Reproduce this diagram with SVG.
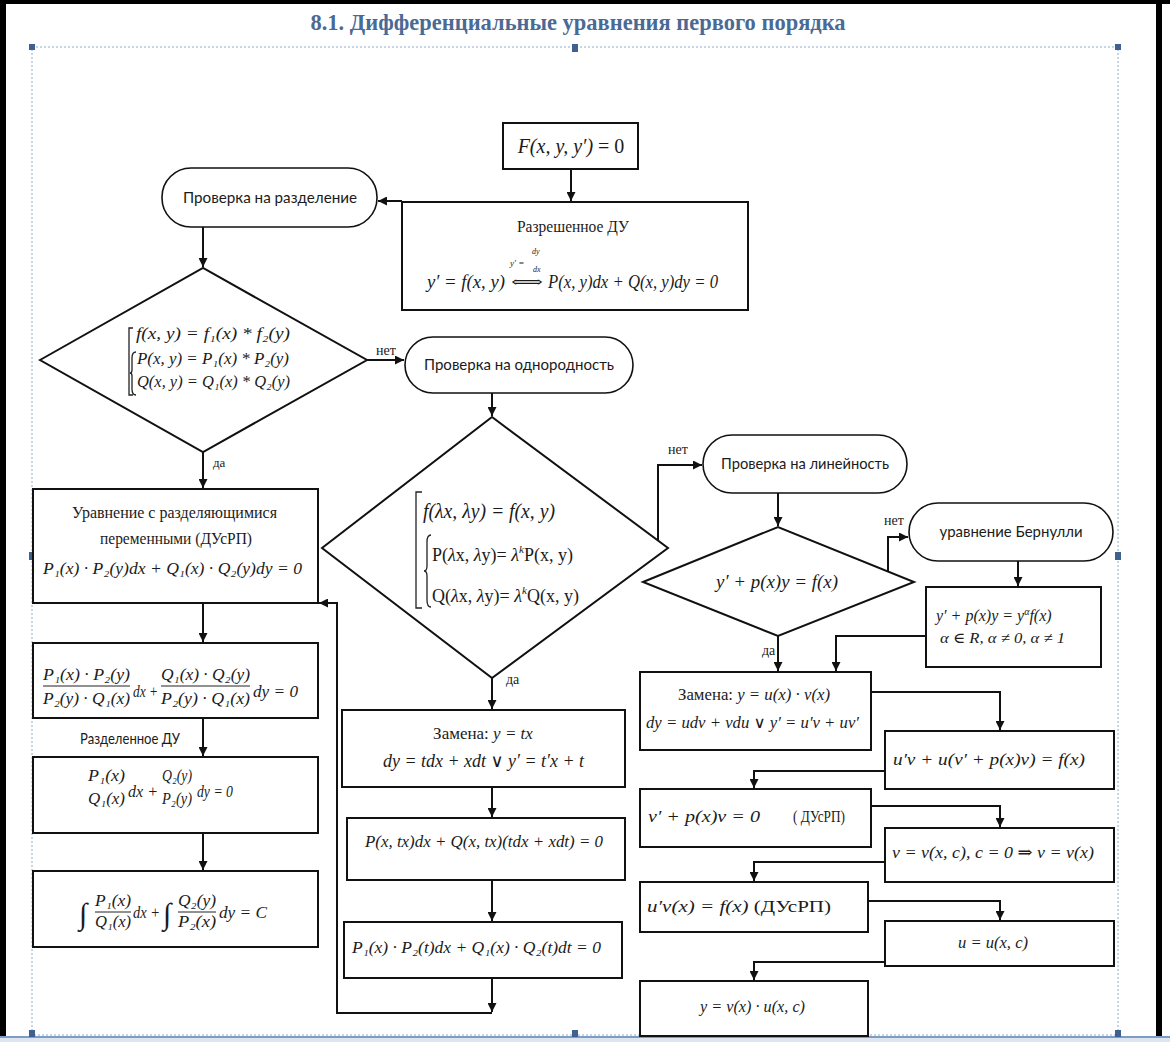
<svg xmlns="http://www.w3.org/2000/svg" width="1170" height="1042" viewBox="0 0 1170 1042">
<style>
.bx{fill:#fff;stroke:#111;stroke-width:2}
.tm{fill:#fff;stroke:#111;stroke-width:1.6}
.cn{fill:none;stroke:#111;stroke-width:2;marker-end:url(#ah)}
.m{font-family:"Liberation Serif","DejaVu Serif",serif;font-style:italic;fill:#1b1b1b}
.r{font-family:"Liberation Serif","DejaVu Serif",serif;fill:#1b1b1b}
.s{font-family:Lato,"Open Sans","Liberation Sans",sans-serif;fill:#1b1b1b}
.br{fill:none;stroke:#222;stroke-width:1.3}
.fl{stroke:#222;stroke-width:1}
.hd{fill:#3f6190}
</style>
<defs>
<marker id="ah" markerUnits="userSpaceOnUse" markerWidth="10" markerHeight="9" refX="9" refY="4.5" orient="auto"><path d="M0,0 L9,4.5 L0,9 z" fill="#111"/></marker>
</defs>
<rect x="0" y="0" width="1170" height="1042" fill="#fff"/>
<g id="frame">
<rect x="0" y="0" width="1170" height="4" fill="#000"/>
<rect x="0" y="0" width="6" height="1038" fill="#000"/>
<rect x="1156" y="0" width="6" height="1038" fill="#000"/>
<rect x="0" y="1038" width="1170" height="4" fill="#dce5f0"/>
<line x1="0" y1="1037" x2="1170" y2="1037" stroke="#7f9cc2" stroke-width="2"/>
<rect x="32" y="47" width="1086" height="988" fill="none" stroke="#8eaad0" stroke-width="1" stroke-dasharray="2,2"/>
<rect class="hd" x="29" y="44" width="6" height="6"/>
<rect class="hd" x="572" y="44" width="6" height="8"/>
<rect class="hd" x="1115" y="44" width="6" height="6"/>
<rect class="hd" x="29" y="552" width="6" height="8"/>
<rect class="hd" x="1115" y="552" width="6" height="8"/>
<rect class="hd" x="29" y="1030" width="6" height="7"/>
<rect class="hd" x="572" y="1030" width="6" height="7"/>
<rect class="hd" x="1115" y="1030" width="6" height="7"/>
<text x="578" y="30" text-anchor="middle" font-family="Liberation Serif, serif" font-weight="bold" font-size="23" fill="#4a6a95" textLength="535" lengthAdjust="spacingAndGlyphs">8.1. Дифференциальные уравнения первого порядка</text>
</g>
<g id="connectors">
<path class="cn" d="M571,169 V201"/>
<path class="cn" d="M402,201 H378"/>
<path class="cn" d="M203,227 V267"/>
<path class="cn" d="M367,360 H404"/>
<path class="cn" d="M203,452 V488"/>
<path class="cn" d="M203,603 V642"/>
<path class="cn" d="M203,718 V756"/>
<path class="cn" d="M203,833 V870"/>
<path class="cn" d="M492,393 V416"/>
<path class="cn" d="M658,541 V465 H702"/>
<path class="cn" d="M492,678 V709"/>
<path class="cn" d="M492,787 V817"/>
<path class="cn" d="M492,880 V921"/>
<path class="cn" d="M492,978 V1012"/>
<path class="cn" d="M492,1013 H337 V603 H319"/>
<path class="cn" d="M778,493 V526"/>
<path class="cn" d="M888,571 V537 H908"/>
<path class="cn" d="M1018,561 V586"/>
<path class="cn" d="M778,636 V671"/>
<path class="cn" d="M926,636 H836 V671"/>
<path class="cn" d="M871,692 H1000 V730"/>
<path class="cn" d="M885,771 H754 V788"/>
<path class="cn" d="M871,806 H1000 V827"/>
<path class="cn" d="M885,862 H754 V881"/>
<path class="cn" d="M868,901 H1000 V920"/>
<path class="cn" d="M885,962 H754 V980"/>
<text class="r" x="376" y="355" font-size="14">нет</text>
<text class="r" x="213" y="467" font-size="13">да</text>
<text class="r" x="668" y="454" font-size="14">нет</text>
<text class="r" x="506" y="684" font-size="14">да</text>
<text class="r" x="884" y="525" font-size="14">нет</text>
<text class="r" x="762" y="655" font-size="14">да</text>
<text class="s" x="80" y="744" font-size="15" textLength="100" lengthAdjust="spacingAndGlyphs">Разделенное ДУ</text>
</g>
<g id="n_F">
<rect class="bx" x="503" y="123" width="135" height="46"/>
<text class="m" x="571" y="153" font-size="20" text-anchor="middle">F(x, y, y′) <tspan font-style="normal">= 0</tspan></text>
</g>
<g id="n_resolved">
<rect class="bx" x="402" y="202" width="346" height="108"/>
<text class="r" x="573" y="232" font-size="16" text-anchor="middle" textLength="112" lengthAdjust="spacingAndGlyphs">Разрешенное ДУ</text>
<text class="m" x="427" y="288" font-size="18" textLength="78" lengthAdjust="spacingAndGlyphs">y′ = f(x, y)</text>
<text class="r" x="511" y="287" font-size="15" textLength="32" lengthAdjust="spacingAndGlyphs">⟺</text>
<text class="m" x="510" y="266" font-size="9">y′ =</text>
<text class="m" x="532" y="254" font-size="8">dy</text>
<text class="m" x="533" y="272" font-size="8">dx</text>
<text class="m" x="548" y="288" font-size="18" textLength="170" lengthAdjust="spacingAndGlyphs">P(x, y)dx + Q(x, y)dy = 0</text>
</g>
<g id="n_sep_check">
<rect class="tm" x="162" y="168" width="215" height="59" rx="29"/>
<text class="s" x="270" y="203" font-size="15" text-anchor="middle" textLength="174" lengthAdjust="spacingAndGlyphs">Проверка на разделение</text>
</g>
<g id="n_sep_diamond">
<polygon class="bx" points="40,360 203,268 367,360 203,452"/>
<path class="br" d="M133,328 H129 V395 H133"/>
<path class="br" d="M136,352 Q132,352 132,358 V370 Q132,373 130,373 Q132,373 132,376 V389 Q132,395 136,395"/>
<text class="m" x="136" y="339" font-size="17" textLength="154" lengthAdjust="spacingAndGlyphs">f(x, y) = f₁(x) * f₂(y)</text>
<text class="m" x="137" y="364" font-size="17" textLength="152" lengthAdjust="spacingAndGlyphs">P(x, y) = P₁(x) * P₂(y)</text>
<text class="m" x="137" y="387" font-size="17" textLength="153" lengthAdjust="spacingAndGlyphs">Q(x, y) = Q₁(x) * Q₂(y)</text>
</g>
<g id="n_sep_eq">
<rect class="bx" x="33" y="489" width="285" height="114"/>
<text class="r" x="72" y="518" font-size="17" textLength="205" lengthAdjust="spacingAndGlyphs">Уравнение с разделяющимися</text>
<text class="r" x="100" y="544" font-size="17" textLength="152" lengthAdjust="spacingAndGlyphs">переменными (ДУсРП)</text>
<text class="m" x="43" y="574" font-size="17" textLength="259" lengthAdjust="spacingAndGlyphs">P₁(x) · P₂(y)dx + Q₁(x) · Q₂(y)dy = 0</text>
</g>
<g id="n_divided">
<rect class="bx" x="33" y="643" width="285" height="75"/>
<text class="m" x="43" y="680" font-size="16" textLength="87" lengthAdjust="spacingAndGlyphs">P₁(x) · P₂(y)</text>
<line class="fl" x1="43" y1="686" x2="130" y2="686"/>
<text class="m" x="43" y="704" font-size="16" textLength="87" lengthAdjust="spacingAndGlyphs">P₂(y) · Q₁(x)</text>
<text class="m" x="133" y="697" font-size="16" textLength="25" lengthAdjust="spacingAndGlyphs">dx +</text>
<text class="m" x="161" y="680" font-size="16" textLength="89" lengthAdjust="spacingAndGlyphs">Q₁(x) · Q₂(y)</text>
<line class="fl" x1="161" y1="686" x2="250" y2="686"/>
<text class="m" x="161" y="704" font-size="16" textLength="89" lengthAdjust="spacingAndGlyphs">P₂(y) · Q₁(x)</text>
<text class="m" x="253" y="697" font-size="16" textLength="45" lengthAdjust="spacingAndGlyphs">dy = 0</text>
</g>
<g id="n_separated">
<rect class="bx" x="33" y="757" width="285" height="76"/>
<text class="m" x="88" y="781" font-size="16" textLength="37" lengthAdjust="spacingAndGlyphs">P₁(x)</text>
<text class="m" x="88" y="804" font-size="16" textLength="37" lengthAdjust="spacingAndGlyphs">Q₁(x)</text>
<text class="m" x="128" y="797" font-size="16" textLength="30" lengthAdjust="spacingAndGlyphs">dx +</text>
<text class="m" x="162" y="781" font-size="16" textLength="30" lengthAdjust="spacingAndGlyphs">Q₂(y)</text>
<text class="m" x="162" y="804" font-size="16" textLength="30" lengthAdjust="spacingAndGlyphs">P₂(y)</text>
<text class="m" x="197" y="797" font-size="16" textLength="36" lengthAdjust="spacingAndGlyphs">dy = 0</text>
</g>
<g id="n_integral">
<rect class="bx" x="33" y="871" width="285" height="76"/>
<text class="m" x="79" y="924" font-size="30">∫</text>
<text class="m" x="95" y="906" font-size="16" textLength="36" lengthAdjust="spacingAndGlyphs">P₁(x)</text>
<line class="fl" x1="95" y1="912" x2="131" y2="912"/>
<text class="m" x="95" y="927" font-size="16" textLength="36" lengthAdjust="spacingAndGlyphs">Q₁(x)</text>
<text class="m" x="133" y="918" font-size="16" textLength="27" lengthAdjust="spacingAndGlyphs">dx +</text>
<text class="m" x="163" y="924" font-size="30">∫</text>
<text class="m" x="178" y="906" font-size="16" textLength="38" lengthAdjust="spacingAndGlyphs">Q₂(y)</text>
<line class="fl" x1="178" y1="912" x2="216" y2="912"/>
<text class="m" x="178" y="927" font-size="16" textLength="38" lengthAdjust="spacingAndGlyphs">P₂(x)</text>
<text class="m" x="219" y="918" font-size="16" textLength="48" lengthAdjust="spacingAndGlyphs">dy = C</text>
</g>
<g id="n_homog_check">
<rect class="tm" x="405" y="337" width="228" height="56" rx="28"/>
<text class="s" x="519" y="370" font-size="15" text-anchor="middle" textLength="190" lengthAdjust="spacingAndGlyphs">Проверка на однородность</text>
</g>
<g id="n_homog_diamond">
<polygon class="bx" points="322,548 492,417 668,548 492,678"/>
<path class="br" d="M422,492 H416 V608 H422"/>
<path class="br" d="M431,535 Q427,535 427,542 V566 Q427,571 424,571 Q427,571 427,576 V600 Q427,607 431,607"/>
<text class="m" x="423" y="518" font-size="21" textLength="132" lengthAdjust="spacingAndGlyphs">f(λx, λy) = f(x, y)</text>
<text class="r" x="432" y="561" font-size="18">P(<tspan font-style="italic">λ</tspan>x, <tspan font-style="italic">λ</tspan>y)= <tspan font-style="italic">λ</tspan><tspan font-style="italic" font-size="11" dy="-8">k</tspan><tspan dy="8">P(x, y)</tspan></text>
<text class="r" x="432" y="602" font-size="18">Q(<tspan font-style="italic">λ</tspan>x, <tspan font-style="italic">λ</tspan>y)= <tspan font-style="italic">λ</tspan><tspan font-style="italic" font-size="11" dy="-8">k</tspan><tspan dy="8">Q(x, y)</tspan></text>
</g>
<g id="n_sub_tx">
<rect class="bx" x="342" y="710" width="283" height="77"/>
<text class="r" x="483" y="739" font-size="17" text-anchor="middle">Замена: <tspan font-style="italic">y = tx</tspan></text>
<text class="m" x="383" y="767" font-size="18" textLength="201" lengthAdjust="spacingAndGlyphs">dy = tdx + xdt ∨ y′ = t′x + t</text>
</g>
<g id="n_ptx">
<rect class="bx" x="347" y="818" width="278" height="62"/>
<text class="m" x="365" y="847" font-size="17" textLength="238" lengthAdjust="spacingAndGlyphs">P(x, tx)dx + Q(x, tx)(tdx + xdt) = 0</text>
</g>
<g id="n_p1dt">
<rect class="bx" x="344" y="922" width="278" height="56"/>
<text class="m" x="352" y="953" font-size="17" textLength="249" lengthAdjust="spacingAndGlyphs">P₁(x) · P₂(t)dx + Q₁(x) · Q₂(t)dt = 0</text>
</g>
<g id="n_lin_check">
<rect class="tm" x="703" y="435" width="204" height="58" rx="29"/>
<text class="s" x="805" y="469" font-size="15" text-anchor="middle" textLength="168" lengthAdjust="spacingAndGlyphs">Проверка на линейность</text>
</g>
<g id="n_lin_diamond">
<polygon class="bx" points="643,582 778,527 914,582 778,636"/>
<text class="m" x="716" y="588" font-size="18" textLength="122" lengthAdjust="spacingAndGlyphs">y′ + p(x)y = f(x)</text>
</g>
<g id="n_bern">
<rect class="tm" x="909" y="503" width="204" height="58" rx="29"/>
<text class="s" x="1011" y="537" font-size="15" text-anchor="middle" textLength="143" lengthAdjust="spacingAndGlyphs">уравнение Бернулли</text>
</g>
<g id="n_bern_eq">
<rect class="bx" x="926" y="587" width="175" height="80"/>
<text class="m" x="936" y="621" font-size="16">y′ + p(x)y = y<tspan font-size="10" dy="-6">α</tspan><tspan dy="6">f(x)</tspan></text>
<text class="m" x="940" y="643" font-size="15" textLength="125" lengthAdjust="spacingAndGlyphs">α ∈ R, α ≠ 0, α ≠ 1</text>
</g>
<g id="n_sub_uv">
<rect class="bx" x="640" y="672" width="231" height="78"/>
<text class="r" x="678" y="700" font-size="16" textLength="152" lengthAdjust="spacingAndGlyphs">Замена: <tspan font-style="italic">y = u(x) · v(x)</tspan></text>
<text class="m" x="646" y="728" font-size="16" textLength="213" lengthAdjust="spacingAndGlyphs">dy = udv + vdu ∨ y′ = u′v + uv′</text>
</g>
<g id="n_uv_eq">
<rect class="bx" x="885" y="731" width="229" height="58"/>
<text class="m" x="893" y="765" font-size="17" textLength="192" lengthAdjust="spacingAndGlyphs">u′v + u(v′ + p(x)v) = f(x)</text>
</g>
<g id="n_v_eq">
<rect class="bx" x="640" y="789" width="231" height="58"/>
<text class="m" x="648" y="822" font-size="17" textLength="112" lengthAdjust="spacingAndGlyphs">v′ + p(x)v = 0</text>
<text class="r" x="793" y="822" font-size="16" textLength="52" lengthAdjust="spacingAndGlyphs">( ДУсРП)</text>
</g>
<g id="n_v_sol">
<rect class="bx" x="885" y="828" width="229" height="54"/>
<text class="m" x="892" y="858" font-size="17" textLength="202" lengthAdjust="spacingAndGlyphs">v = v(x, c), c = 0 ⇒ v = v(x)</text>
</g>
<g id="n_u_eq">
<rect class="bx" x="640" y="882" width="228" height="50"/>
<text class="m" x="647" y="912" font-size="17" textLength="184" lengthAdjust="spacingAndGlyphs">u′v(x) = f(x) <tspan font-style="normal">(ДУсРП)</tspan></text>
</g>
<g id="n_u_sol">
<rect class="bx" x="885" y="921" width="229" height="45"/>
<text class="m" x="958" y="948" font-size="17" textLength="70" lengthAdjust="spacingAndGlyphs">u = u(x, c)</text>
</g>
<g id="n_y_sol">
<rect class="bx" x="640" y="981" width="228" height="55"/>
<text class="m" x="700" y="1012" font-size="17" textLength="105" lengthAdjust="spacingAndGlyphs">y = v(x) · u(x, c)</text>
</g>
</svg>
